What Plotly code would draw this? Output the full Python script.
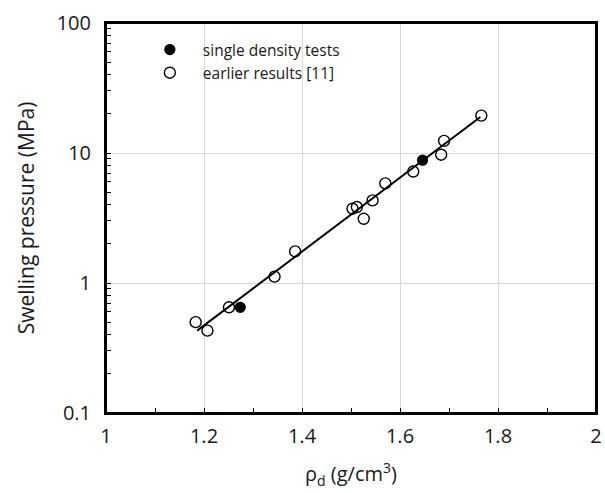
import plotly.graph_objects as go

# Data
earlier_rho = [1.183, 1.207, 1.251, 1.344, 1.386, 1.503, 1.512, 1.526, 1.544, 1.570, 1.627, 1.684, 1.690, 1.766]
earlier_p = [0.50, 0.43, 0.65, 1.12, 1.75, 3.73, 3.84, 3.12, 4.32, 5.84, 7.2, 9.7, 12.4, 19.4]
single_rho = [1.274, 1.646]
single_p = [0.65, 8.8]
fit_rho = [1.186, 1.764]
fit_p = [0.43, 18.9]

x_ticks = [1, 1.2, 1.4, 1.6, 1.8, 2]
x_ticktext = ["1", "1.2", "1.4", "1.6", "1.8", "2"]
y_ticks = [0.1, 1, 10, 100]
y_ticktext = ["0.1", "1", "10", "100"]
y_minor = [m * d for d in (0.1, 1, 10) for m in range(2, 10)]

FONT = "Open Sans"
TXT = "#1a1a1a"

fig = go.Figure()
fig.add_trace(go.Scatter(x=fit_rho, y=fit_p, mode="lines",
                         line=dict(color="black", width=2), showlegend=False, hoverinfo="skip"))
fig.add_trace(go.Scatter(x=single_rho, y=single_p, mode="markers", name="single density tests",
                         marker=dict(symbol="circle", size=10, color="black",
                                     line=dict(color="black", width=1.2))))
fig.add_trace(go.Scatter(x=earlier_rho, y=earlier_p, mode="markers", name="earlier results [11]",
                         marker=dict(symbol="circle-open", size=11, color="black",
                                     line=dict(color="black", width=1.4))))

# plot frame
fig.add_shape(type="rect", xref="paper", yref="paper", x0=0, x1=1, y0=0, y1=1,
              line=dict(color="black", width=2), layer="above")

# x-axis title
fig.add_annotation(text="ρ<sub>d</sub> (g/cm<sup>3</sup>)", xref="paper", yref="paper",
                   x=0.5, y=(413 - 474) / 390, xanchor="center", yanchor="middle",
                   showarrow=False, font=dict(family=FONT, size=20, color=TXT))

fig.update_layout(
    width=605, height=493,
    margin=dict(l=106, r=7, t=23, b=80),
    paper_bgcolor="white", plot_bgcolor="white",
    font=dict(family=FONT, size=16, color=TXT),
    legend=dict(x=(137 - 106) / 492, y=(493 - 80 - 33) / 390, xref="paper", yref="paper",
                xanchor="left", yanchor="top",
                bgcolor="rgba(0,0,0,0)", itemwidth=56,
                font=dict(family=FONT, size=15.5, color=TXT)),
    xaxis=dict(
        range=[1, 2], tickvals=x_ticks, ticktext=x_ticktext,
        showgrid=True, gridcolor="#d9d9d9", gridwidth=1,
        showline=True, linecolor="black", linewidth=2, mirror=True,
        ticks="inside", ticklen=5, tickcolor="black", tickwidth=1,
        minor=dict(tickvals=[1.1, 1.3, 1.5, 1.7, 1.9], ticks="inside", ticklen=5,
                   tickcolor="black", showgrid=False),
        zeroline=False, ticklabelstandoff=4, automargin=False,
        tickfont=dict(family=FONT, size=20, color=TXT),
    ),
    yaxis=dict(
        type="log", range=[-1, 2], tickvals=y_ticks, ticktext=y_ticktext,
        showgrid=True, gridcolor="#d9d9d9", gridwidth=1,
        showline=True, linecolor="black", linewidth=2, mirror=True,
        ticks="inside", ticklen=5, tickcolor="black",
        minor=dict(tickvals=y_minor, ticks="inside", ticklen=5, tickcolor="black", showgrid=False),
        zeroline=False, ticklabelstandoff=9,
        title=dict(text="Swelling pressure (MPa)", standoff=16,
                   font=dict(family=FONT, size=21, color=TXT)),
        tickfont=dict(family=FONT, size=20, color=TXT),
    ),
)

fig.write_html("out.html")
